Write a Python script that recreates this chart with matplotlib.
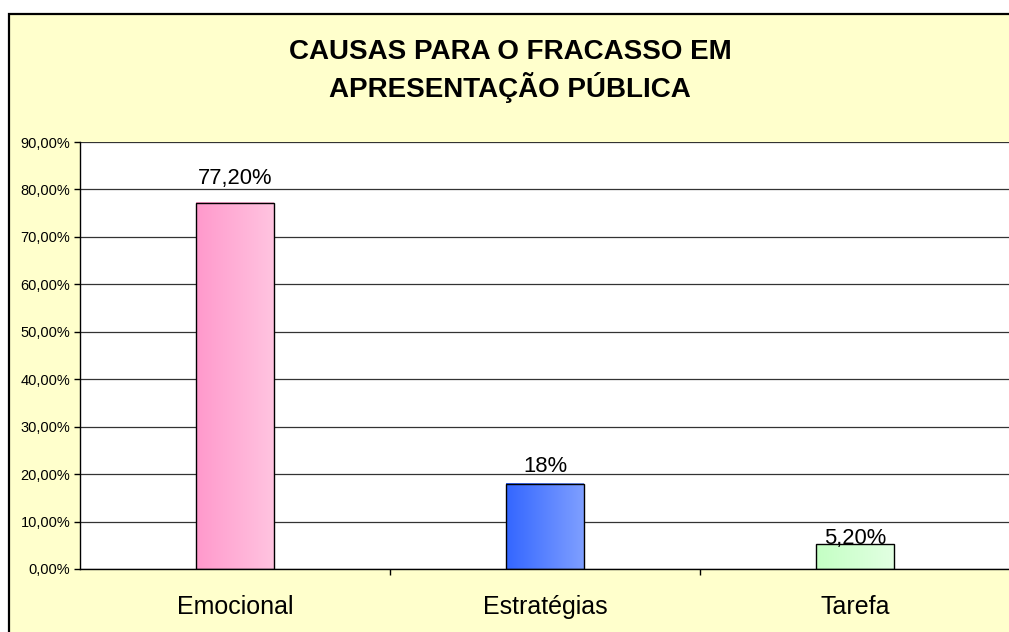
import matplotlib
matplotlib.use("Agg")
import matplotlib.pyplot as plt
import numpy as np
from matplotlib.colors import LinearSegmentedColormap
from matplotlib.patches import Rectangle
from matplotlib.ticker import FuncFormatter, FixedLocator

plt.rcParams["font.family"] = ["Liberation Sans", "DejaVu Sans"]

categories = ["Emocional", "Estratégias", "Tarefa"]
values = [0.772, 0.18, 0.052]
value_labels = ["77,20%", "18%", "5,20%"]
title = "CAUSAS PARA O FRACASSO EM\nAPRESENTAÇÃO PÚBLICA"

# left -> right gradient for each bar
bar_gradients = [
    ("#ff99cc", "#ffc4e0"),
    ("#3366ff", "#7f9fff"),
    ("#c4ffc4", "#e2ffe2"),
]
label_offsets = [19, 12, 0]  # px from bar top to label baseline, as in the source

BG = "#ffffcc"

fig = plt.figure(figsize=(10.09, 6.32), dpi=100, facecolor="white")
fig.patches.append(Rectangle((9 / 1009, -0.02), 1.05, 1 - 14 / 632 + 0.02,
                             transform=fig.transFigure, facecolor=BG,
                             edgecolor="black", linewidth=1.6, zorder=-5))

ax = fig.add_axes([80 / 1009, 1 - 569 / 632, 930 / 1009, 427 / 632])
ax.set_facecolor("white")

x = np.arange(len(categories))
bars = ax.bar(x, values, width=0.25, facecolor="none", edgecolor="black",
              linewidth=1.0, zorder=3)

grad = np.linspace(0, 1, 256).reshape(1, -1)
for b, (c0, c1) in zip(bars, bar_gradients):
    cmap = LinearSegmentedColormap.from_list("g", [c0, c1])
    x0, y0 = b.get_x(), b.get_y()
    ax.imshow(grad, cmap=cmap, aspect="auto", zorder=2,
              extent=[x0, x0 + b.get_width(), y0, y0 + b.get_height()])

for b, lab, off in zip(bars, value_labels, label_offsets):
    ax.annotate(lab, (b.get_x() + b.get_width() / 2, b.get_height()),
                xytext=(0, off * 0.72), textcoords="offset points",
                ha="center", va="baseline", fontsize=15.8, zorder=4)

ax.set_xlim(-0.5, len(categories) - 0.5)
ax.set_ylim(0, 0.9)
ax.set_yticks(np.arange(0, 0.91, 0.1))
ax.yaxis.set_major_formatter(FuncFormatter(lambda v, p: f"{v * 100:.2f}%".replace(".", ",")))
ax.grid(axis="y", color="#333333", linewidth=0.9, zorder=1)
ax.set_axisbelow(True)

ax.set_xticks(x)
ax.set_xticklabels(categories, fontsize=18)
ax.xaxis.set_minor_locator(FixedLocator(x[:-1] + 0.5))
ax.tick_params(axis="x", which="major", length=0, pad=18.5)
ax.tick_params(axis="x", which="minor", length=4, width=1, direction="out")
ax.tick_params(axis="y", length=4, width=1, labelsize=10.5, pad=3)

for side in ["top", "right"]:
    ax.spines[side].set_visible(False)
ax.spines["left"].set_linewidth(1.0)
ax.spines["bottom"].set_linewidth(1.0)

fig.text(510 / 1009, 1 - 71 / 632, title, ha="center", va="center",
         fontsize=20, fontweight="bold", linespacing=1.3)

fig.savefig("out.png", dpi=100, facecolor=fig.get_facecolor())
